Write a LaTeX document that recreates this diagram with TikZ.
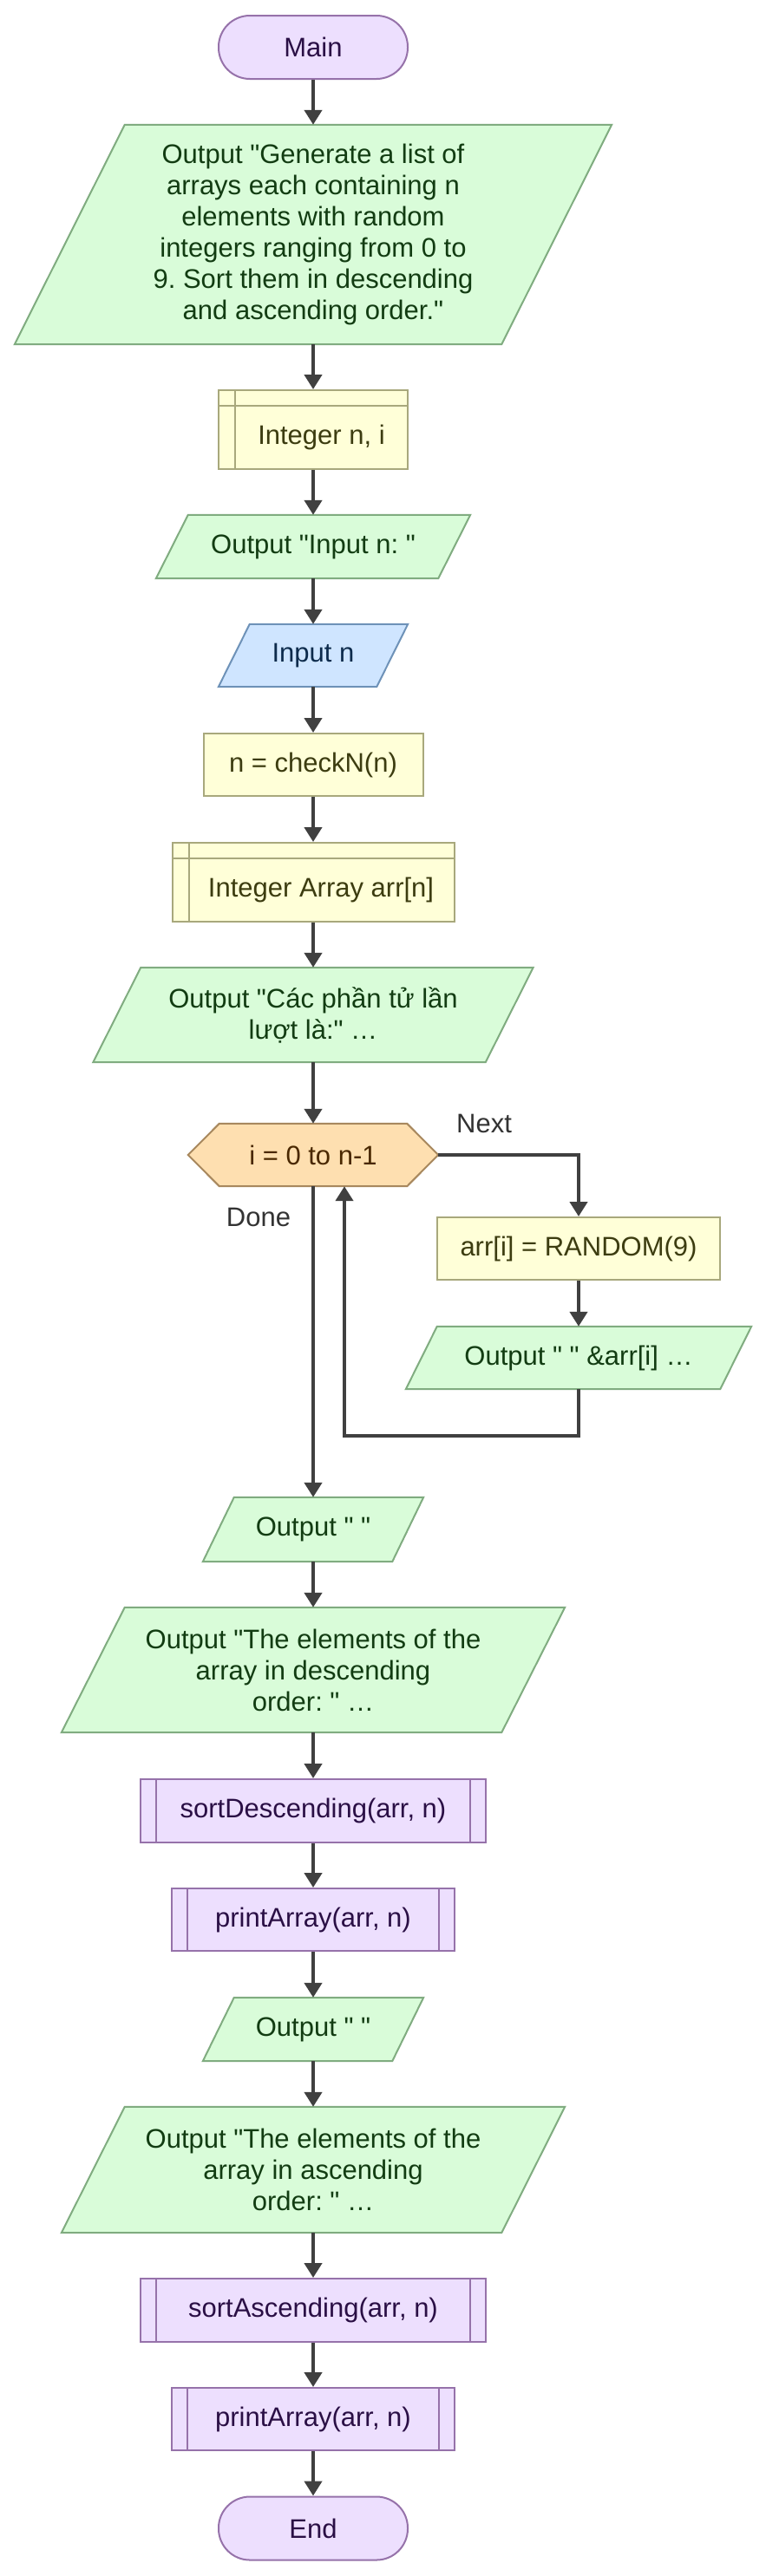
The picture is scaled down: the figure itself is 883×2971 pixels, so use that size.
\documentclass[tikz,border=0pt]{standalone}
\usepackage{fontspec}
\setmainfont{Liberation Sans}[Ligatures=TeXOff]
\usetikzlibrary{arrows.meta,calc,backgrounds}
\definecolor{termfill}{HTML}{EDDFFE}
\definecolor{termdraw}{HTML}{9672AA}
\definecolor{termtext}{HTML}{2A0F45}
\definecolor{iofill}{HTML}{D9FCD9}
\definecolor{iodraw}{HTML}{80AC80}
\definecolor{iotext}{HTML}{123C12}
\definecolor{infill}{HTML}{CFE5FF}
\definecolor{indraw}{HTML}{6E92B8}
\definecolor{intext}{HTML}{0D2B4C}
\definecolor{procfill}{HTML}{FFFFD8}
\definecolor{procdraw}{HTML}{A8A87C}
\definecolor{proctext}{HTML}{3C3C10}
\definecolor{hexfill}{HTML}{FEDFB0}
\definecolor{hexdraw}{HTML}{A8885E}
\definecolor{hextext}{HTML}{4A2800}
\definecolor{arrcol}{HTML}{404040}
\definecolor{lblcol}{HTML}{333333}
\newcommand\drawpara[4]{%
  \path[fill=#3, draw=#4, line width=2pt] ([xshift=#2/2]#1.north west) -- ([xshift=#2/2]#1.north east) -- ([xshift=-#2/2]#1.south east) -- ([xshift=-#2/2]#1.south west) -- cycle;}
\frenchspacing
\begin{document}
\begin{tikzpicture}[x=1pt,y=-1pt,
  every node/.style={font=\fontsize{31}{36}\selectfont},
  base/.style={minimum height=72pt, inner sep=0pt, align=center},
  term/.style={base, draw=termdraw, fill=termfill, text=termtext, rounded corners=36pt, line width=2pt, minimum width=218pt, minimum height=73pt},
  proc/.style={base, draw=procdraw, fill=procfill, text=proctext, line width=2pt},
  decl/.style={base, draw=procdraw, fill=procfill, line width=2pt,
    path picture={\draw[procdraw, line width=2pt]
      ([xshift=19pt]path picture bounding box.north west) -- ([xshift=19pt]path picture bounding box.south west)
      ([yshift=-18pt]path picture bounding box.north west) -- ([yshift=-18pt]path picture bounding box.north east);}},
  sub/.style={base, draw=termdraw, fill=termfill, text=termtext, line width=2pt,
    path picture={\draw[termdraw, line width=2pt]
      ([xshift=18pt]path picture bounding box.north west) -- ([xshift=18pt]path picture bounding box.south west)
      ([xshift=-18pt]path picture bounding box.north east) -- ([xshift=-18pt]path picture bounding box.south east);}},
  pbox/.style={base, text=iotext},
  hexn/.style={base, text=hextext},
  lbl/.style={text=lblcol, inner sep=0pt},
  arr/.style={draw=arrcol, line width=4.5pt, -{Triangle[length=17pt,width=20pt]}}
]
\useasboundingbox (0,0) rectangle (883,2971);

\node[term] (main) at (361,54.5) {Main};
\node[pbox, minimum width=561pt, minimum height=253pt] (o1) at (361,270.5) {Output "Generate a list of\\arrays each containing n\\elements with random\\integers ranging from 0 to\\9. Sort them in descending\\and ascending order."};
\node[decl, minimum width=218pt, minimum height=91pt] (d1) at (361,495.5) {};
\node[text=proctext, inner sep=0pt] (d1t) at ($(d1.center)+(9.5,9)$) {Integer n, i};
\node[pbox, minimum width=325pt, minimum height=73pt] (o2) at (361,630.5) {Output "Input n: "};
\node[base, text=intext, minimum width=182pt] (i1) at (361,756) {Input n};
\node[proc, minimum width=253pt] (p1) at (361,882) {n = checkN(n)};
\node[decl, minimum width=325pt, minimum height=91pt] (d2) at (361,1017.5) {};
\node[text=proctext, inner sep=0pt] (d2t) at ($(d2.center)+(9,9)$) {Integer Array arr[n]};
\node[pbox, minimum width=452pt, minimum height=109pt] (o3) at (361,1170.5) {Output "Các phần tử lần\\lượt là:" …};
\node[hexn, minimum width=288pt] (loop) at (361,1332) {i = 0 to n-1};
\node[proc, minimum width=326pt] (p2) at (667,1440) {arr[i] = RANDOM(9)};
\node[pbox, minimum width=362pt] (o4) at (667,1566) {Output " " \&arr[i] …};
\coordinate (lb) at (397,1656);
\node[pbox, minimum width=218pt, minimum height=74pt] (o5) at (361,1764) {Output " "};
\node[pbox, minimum width=507pt, minimum height=144pt] (o6) at (361,1926) {Output "The elements of the\\array in descending\\order: " …};
\node[sub, minimum width=398pt, minimum height=73pt] (s1) at (361,2088.5) {sortDescending(arr, n)};
\node[sub, minimum width=326pt] (s2) at (361,2214) {printArray(arr, n)};
\node[pbox, minimum width=218pt, minimum height=73pt] (o7) at (361,2340.5) {Output " "};
\node[pbox, minimum width=507pt, minimum height=145pt] (o8) at (361,2502.5) {Output "The elements of the\\array in ascending\\order: " …};
\node[sub, minimum width=398pt, minimum height=73pt] (s3) at (361,2664.5) {sortAscending(arr, n)};
\node[sub, minimum width=326pt] (s4) at (361,2790) {printArray(arr, n)};
\node[term] (end) at (361,2916) {End};

\node[lbl] (lnext) at (558,1296) {Next};
\node[lbl] (ldone) at (298,1404) {Done};

\begin{scope}[on background layer]
\fill[white] (0,0) rectangle (883,2971);
\drawpara{o1}{127}{iofill}{iodraw}
\drawpara{o2}{37}{iofill}{iodraw}
\drawpara{i1}{36}{infill}{indraw}
\drawpara{o3}{55}{iofill}{iodraw}
\drawpara{o4}{36}{iofill}{iodraw}
\drawpara{o5}{36}{iofill}{iodraw}
\drawpara{o6}{73}{iofill}{iodraw}
\drawpara{o7}{36}{iofill}{iodraw}
\drawpara{o8}{73}{iofill}{iodraw}
\path[fill=hexfill, draw=hexdraw, line width=2pt] (loop.west) -- ([xshift=36pt]loop.north west) -- ([xshift=-36pt]loop.north east) -- (loop.east) -- ([xshift=-36pt]loop.south east) -- ([xshift=36pt]loop.south west) -- cycle;
\end{scope}

\draw[arr] (main) -- (o1);
\draw[arr] (o1) -- (d1);
\draw[arr] (d1) -- (o2);
\draw[arr] (o2) -- (i1);
\draw[arr] (i1) -- (p1);
\draw[arr] (p1) -- (d2);
\draw[arr] (d2) -- (o3);
\draw[arr] (o3) -- (loop);
\draw[arr] (loop.east) -| (p2.north);
\draw[arr] (p2) -- (o4);
\draw[arr] (o4.south) |- (lb) -- (lb |- loop.south);
\draw[arr] (loop.south) -- (o5.north);
\draw[arr] (o5) -- (o6);
\draw[arr] (o6) -- (s1);
\draw[arr] (s1) -- (s2);
\draw[arr] (s2) -- (o7);
\draw[arr] (o7) -- (o8);
\draw[arr] (o8) -- (s3);
\draw[arr] (s3) -- (s4);
\draw[arr] (s4) -- (end);
\end{tikzpicture}
\end{document}
